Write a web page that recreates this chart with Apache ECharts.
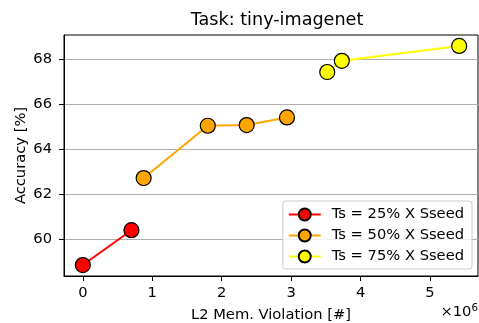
<!DOCTYPE html>
<html><head><meta charset="utf-8">
<script src="https://cdn.jsdelivr.net/npm/echarts@6/dist/echarts.min.js"></script>
<style>html,body{margin:0;padding:0;background:#fff}#c{width:479px;height:323px}</style>
</head><body><div id="c"></div>
<script>
const seriesNames = ['Ts = 25% X Sseed', 'Ts = 50% X Sseed', 'Ts = 75% X Sseed'];
const seriesColors = ['#ff0000', '#ffa500', '#ffff00'];
const s25 = [[0.00, 58.85], [0.70, 60.40]];
const s50 = [[0.876, 62.72], [1.80, 65.05], [2.36, 65.08], [2.94, 65.42]];
const s75 = [[3.52, 67.44], [3.73, 67.94], [5.42, 68.60]];
const xTicks = [0, 1, 2, 3, 4, 5];
const yTicks = [60, 62, 64, 66, 68];

const font = 'DejaVu Sans';
const fs = 14.7;
const allData = [s25, s50, s75];
const xs = allData.flat().map(d => d[0]);
const ys = allData.flat().map(d => d[1]);
const xmin = Math.min(...xs), xmax = Math.max(...xs);
const ymin = Math.min(...ys), ymax = Math.max(...ys);
const xm = (xmax - xmin) * 0.05, ym = (ymax - ymin) * 0.05;

const chart = echarts.init(document.getElementById('c'));
chart.setOption({
  animation: false,
  backgroundColor: '#fff',
  title: {
    text: 'Task: tiny-imagenet', left: 272, top: 6, textAlign: 'center',
    textStyle: { fontFamily: font, fontSize: 17.6, fontWeight: 'normal', color: '#000' }
  },
  grid: { left: 64, right: 1, top: 35, bottom: 47, containLabel: false, outerBoundsMode: 'none',
    show: true, borderColor: '#000', borderWidth: 1, backgroundColor: 'transparent' },
  xAxis: {
    type: 'value', min: xmin - xm, max: xmax + xm,
    name: 'L2 Mem. Violation [#]', nameLocation: 'middle', nameGap: 32,
    nameTextStyle: { fontFamily: font, fontSize: fs, color: '#000' },
    axisLine: { show: true, onZero: false, lineStyle: { color: '#000', width: 1 } },
    axisTick: { show: true, inside: false, length: 5, customValues: xTicks, lineStyle: { color: '#000' } },
    axisLabel: { customValues: xTicks, margin: 9.5, fontFamily: font, fontSize: fs, color: '#000' },
    splitLine: { show: false }
  },
  yAxis: {
    type: 'value', min: ymin - ym, max: ymax + ym,
    name: 'Accuracy [%]', nameLocation: 'middle', nameGap: 35, nameRotate: 90, nameMoveOverlap: false,
    nameTextStyle: { fontFamily: font, fontSize: fs, color: '#000' },
    axisLine: { show: true, onZero: false, lineStyle: { color: '#000', width: 1 } },
    axisTick: { show: true, inside: false, length: 5, customValues: yTicks, lineStyle: { color: '#000' } },
    axisLabel: { customValues: yTicks, margin: 12, fontFamily: font, fontSize: fs, color: '#000' },
    splitLine: { show: true, lineStyle: { color: '#b0b0b0', width: 1 } }
  },
  legend: {
    orient: 'vertical', right: 7, bottom: 54,
    itemWidth: 32, itemHeight: 15, itemGap: 6,
    padding: [6, 8, 5, 5],
    backgroundColor: 'rgba(255,255,255,0.8)', borderColor: '#cccccc', borderWidth: 1, borderRadius: 3,
    textStyle: { fontFamily: font, fontSize: fs, color: '#000', padding: [0, 0, 0, 6] },
    data: seriesNames
  },
  graphic: [{
    type: 'text', right: 1, top: 303,
    style: {
      text: '×10{s|6}', fontFamily: font, fontSize: fs, fill: '#000',
      rich: { s: { fontFamily: font, fontSize: 10.3, verticalAlign: 'top', padding: [0, 0, 8, 0] } }
    }
  }],
  series: allData.map((d, i) => ({
    name: seriesNames[i], type: 'line', data: d,
    symbol: 'circle', symbolSize: 15,
    lineStyle: { color: seriesColors[i], width: 2 },
    itemStyle: { color: seriesColors[i], borderColor: '#000', borderWidth: 1.2 },
    z: 3
  }))
});
</script></body></html>
